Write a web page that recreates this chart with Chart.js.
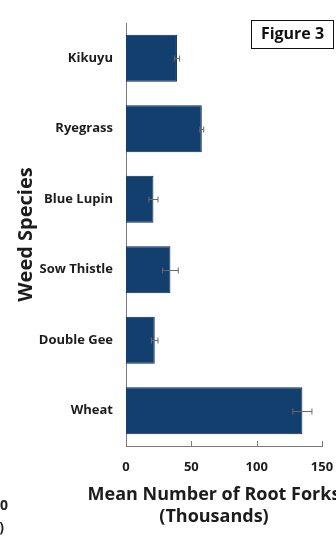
<!DOCTYPE html>
<html>
<head>
<meta charset="utf-8">
<script src="https://cdn.jsdelivr.net/npm/chart.js@4.4.1/dist/chart.umd.min.js"></script>
<style>
  html, body { margin: 0; padding: 0; background: #fff; }
  #wrap { width: 336px; height: 536px; position: relative; }
</style>
</head>
<body>
<div id="wrap"><canvas id="chart" width="336" height="536"></canvas></div>
<script>
// ── Data ──────────────────────────────────────────────
const species = ["Kikuyu", "Ryegrass", "Blue Lupin", "Sow Thistle", "Double Gee", "Wheat"];
const meanForks = [39, 58, 21, 34, 22, 135];       // thousands
const stdError = [2, 1.5, 3.5, 6, 2.5, 7.3];
const xTicks = [0, 50, 100, 150];
const xTitle = ["Mean Number of Root Forks", "(Thousands)"];

const FONT = "'Open Sans', sans-serif";
const INK = "#1c1c1c";

// error whiskers, drawn through the x scale
const errorBars = {
  id: "errorBars",
  afterDatasetsDraw(chart) {
    const { ctx, scales: { x } } = chart;
    const meta = chart.getDatasetMeta(0);
    ctx.save();
    ctx.strokeStyle = "#6a6a6a";
    ctx.lineWidth = 1;
    meta.data.forEach((bar, i) => {
      const y = Math.round(bar.y) + 0.5;
      const lo = x.getPixelForValue(meanForks[i] - stdError[i]);
      const hi = x.getPixelForValue(meanForks[i] + stdError[i]);
      ctx.beginPath();
      ctx.moveTo(lo, y); ctx.lineTo(hi, y);
      ctx.moveTo(lo, y - 3); ctx.lineTo(lo, y + 3);
      ctx.moveTo(hi, y - 3); ctx.lineTo(hi, y + 3);
      ctx.stroke();
    });
    ctx.restore();
  },
};

// inward tick marks, x title (sits a bit left of centre, runs off the edge),
// the "Figure 3" box and the cut-off text of the neighbouring figure
const extras = {
  id: "extras",
  afterDraw(chart) {
    const { ctx, scales: { x }, chartArea } = chart;
    ctx.save();
    ctx.strokeStyle = "#7a7a7a";
    ctx.lineWidth = 1;
    xTicks.slice(1).forEach((v) => {
      const px = Math.round(x.getPixelForValue(v)) + 0.5;
      ctx.beginPath();
      ctx.moveTo(px, chartArea.bottom);
      ctx.lineTo(px, chartArea.bottom - 5);
      ctx.stroke();
    });

    ctx.fillStyle = INK;
    ctx.textAlign = "center";
    ctx.textBaseline = "middle";
    ctx.font = "bold 18px " + FONT;
    ctx.fillText(xTitle[0], 214, 495);
    ctx.fillText(xTitle[1], 214, 517);

    ctx.strokeStyle = "#111";
    ctx.strokeRect(251.5, 20.5, 82, 28);
    ctx.fillStyle = "#111";
    ctx.font = "bold 16px " + FONT;
    ctx.fillText("Figure 3", 292.5, 34.5);

    ctx.fillStyle = "#222";
    ctx.font = "bold 14px " + FONT;
    ctx.textAlign = "right";
    ctx.fillText("00", 8, 506);
    ctx.fillText(")", 4, 528);
    ctx.restore();
  },
};

new Chart(document.getElementById("chart"), {
  type: "bar",
  data: {
    labels: species,
    datasets: [{
      data: meanForks,
      backgroundColor: "#123f6e",
      borderColor: "#0b2b4d",
      borderWidth: 1,
      barPercentage: 0.67,
      categoryPercentage: 1,
    }],
  },
  options: {
    indexAxis: "y",
    responsive: false,
    animation: false,
    layout: { padding: { top: 23, right: 14, left: 0, bottom: 0 } },
    plugins: { legend: { display: false }, tooltip: { enabled: false } },
    scales: {
      x: {
        min: 0,
        max: 150,
        afterBuildTicks: (s) => { s.ticks = xTicks.map((v) => ({ value: v })); },
        // the "150" label may hang past the plot edge, as in the original
        afterFit: (s) => { s.height = 90; s.paddingLeft = 0; s.paddingRight = 0; },
        grid: { display: false, drawTicks: false },
        border: { display: true, color: "#7a7a7a", width: 1 },
        ticks: { padding: 13, color: INK, font: { family: FONT, size: 13, weight: "bold" } },
      },
      y: {
        afterFit: (s) => { s.width = 126; },
        grid: { display: false, drawTicks: false },
        border: { display: true, color: "#7a7a7a", width: 1 },
        ticks: { padding: 13, color: INK, font: { family: FONT, size: 13, weight: "bold" } },
        title: {
          display: true,
          text: "Weed Species",
          color: INK,
          font: { family: FONT, size: 20, weight: "bold" },
          padding: { top: 14, bottom: 0 },
        },
      },
    },
  },
  plugins: [errorBars, extras],
});
</script>
</body>
</html>
